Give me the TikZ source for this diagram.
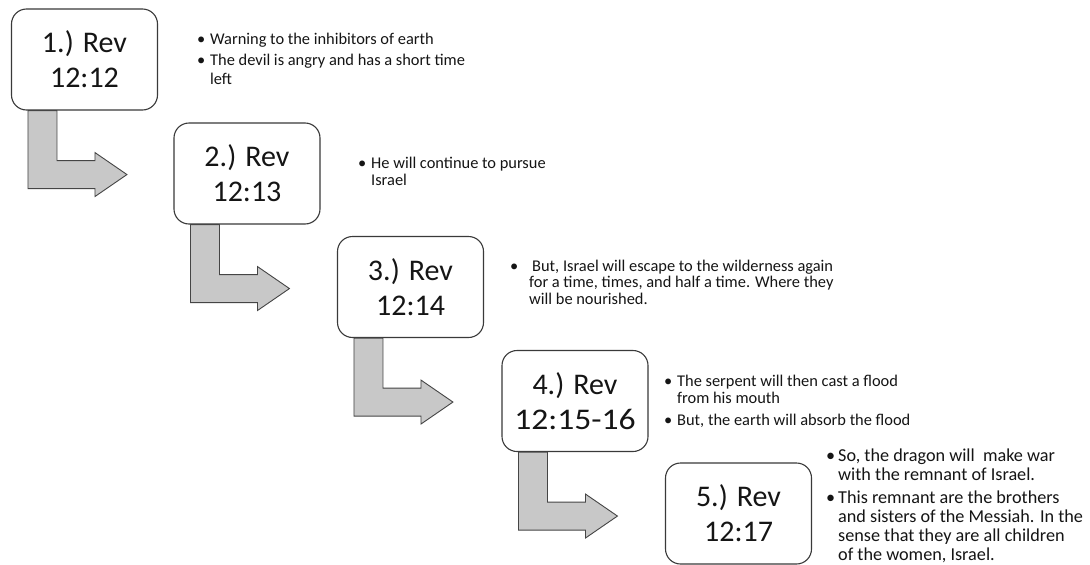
\documentclass[tikz,border=0pt]{standalone}
\usepackage{fontspec}
\setmainfont{Carlito}
\usetikzlibrary{calc}
\definecolor{boxline}{HTML}{3A3A3A}
\definecolor{arrowfill}{HTML}{C8C8C8}
\definecolor{arrowline}{HTML}{454545}
\definecolor{textcol}{HTML}{151515}
\newcommand\bentarrow[1]{%
  \draw[arrowshape] ($(#1.south west)+(17,0)$) -- ($(#1.south west)+(17,78)$)
    -- ($(#1.south west)+(84,78)$) -- ($(#1.south west)+(84,86)$)
    -- ($(#1.south west)+(116,64)$) -- ($(#1.south west)+(84,42)$)
    -- ($(#1.south west)+(84,50)$) -- ($(#1.south west)+(46,50)$)
    -- ($(#1.south west)+(46,0)$) -- cycle;}
\newcommand\bul[1]{\llap{\textbullet\hspace{#1}}}
\begin{document}
\begin{tikzpicture}[x=1pt,y=-1pt,
  revbox/.style={draw=boxline, line width=1.1pt, rounded corners=15pt, fill=white,
    minimum width=146pt, minimum height=101pt, inner sep=0pt, align=center,
    text=textcol, font=\fontsize{30}{35}\selectfont},
  arrowshape/.style={fill=arrowfill, draw=arrowline, line width=0.9pt, line join=miter},
  para/.style={anchor=base west, inner sep=0pt, align=left, text=textcol}]
\useasboundingbox (0,0) rectangle (1090,565);
\fill[white] (0,0) rectangle (1090,565);
% boxes
\node[revbox] (b1) at (84.5,59.5) {1.) Rev\\12:12};
\node[revbox] (b2) at (247,173.5) {2.) Rev\\12:13};
\node[revbox] (b3) at (410.5,287) {3.) Rev\\12:14};
\node[revbox] (b4) at (575,401) {4.) Rev\\\scalebox{1.12}[1]{12:15-16}};
\node[revbox] (b5) at (738.5,513.5) {5.) Rev\\12:17};
% bent arrows
\bentarrow{b1}
\bentarrow{b2}
\bentarrow{b3}
\bentarrow{b4}
% texts (anchor = baseline of the last line)
\node[para, font=\fontsize{16.4}{19}\selectfont] (t1a) at (210,44) {\bul{5pt}Warning to the inhibitors of earth};
\node[para, font=\fontsize{16.4}{19}\selectfont] (t1b) at (210,84) {\bul{5pt}The devil is angry and has a short time\\left};
\node[para, font=\fontsize{16.4}{17}\selectfont] (t2a) at (371,185) {\bul{5pt}He will continue to pursue\\Israel};
\node[para, font=\fontsize{16.4}{16.5}\selectfont] (t3a) at (529,304) {\bul{11pt}\hspace{3pt}But, Israel will escape to the wilderness again\\for a time, times, and half a time. Where they\\will be nourished.};
\node[para, font=\fontsize{16.4}{17}\selectfont] (t4a) at (677,403) {\bul{5pt}The serpent will then cast a flood\\from his mouth};
\node[para, font=\fontsize{16.4}{17}\selectfont] (t4b) at (677,425) {\bul{5pt}But, the earth will absorb the flood};
\node[para, font=\fontsize{18.2}{19}\selectfont] (t5a) at (838,480) {\bul{3pt}So, the dragon will\ \ make war\\with the remnant of Israel.};
\node[para, font=\fontsize{18.2}{19}\selectfont] (t5b) at (838,560) {\bul{3pt}This remnant are the brothers\\and sisters of the Messiah. In the\\sense that they are all children\\of the women, Israel.};
\end{tikzpicture}
\end{document}
